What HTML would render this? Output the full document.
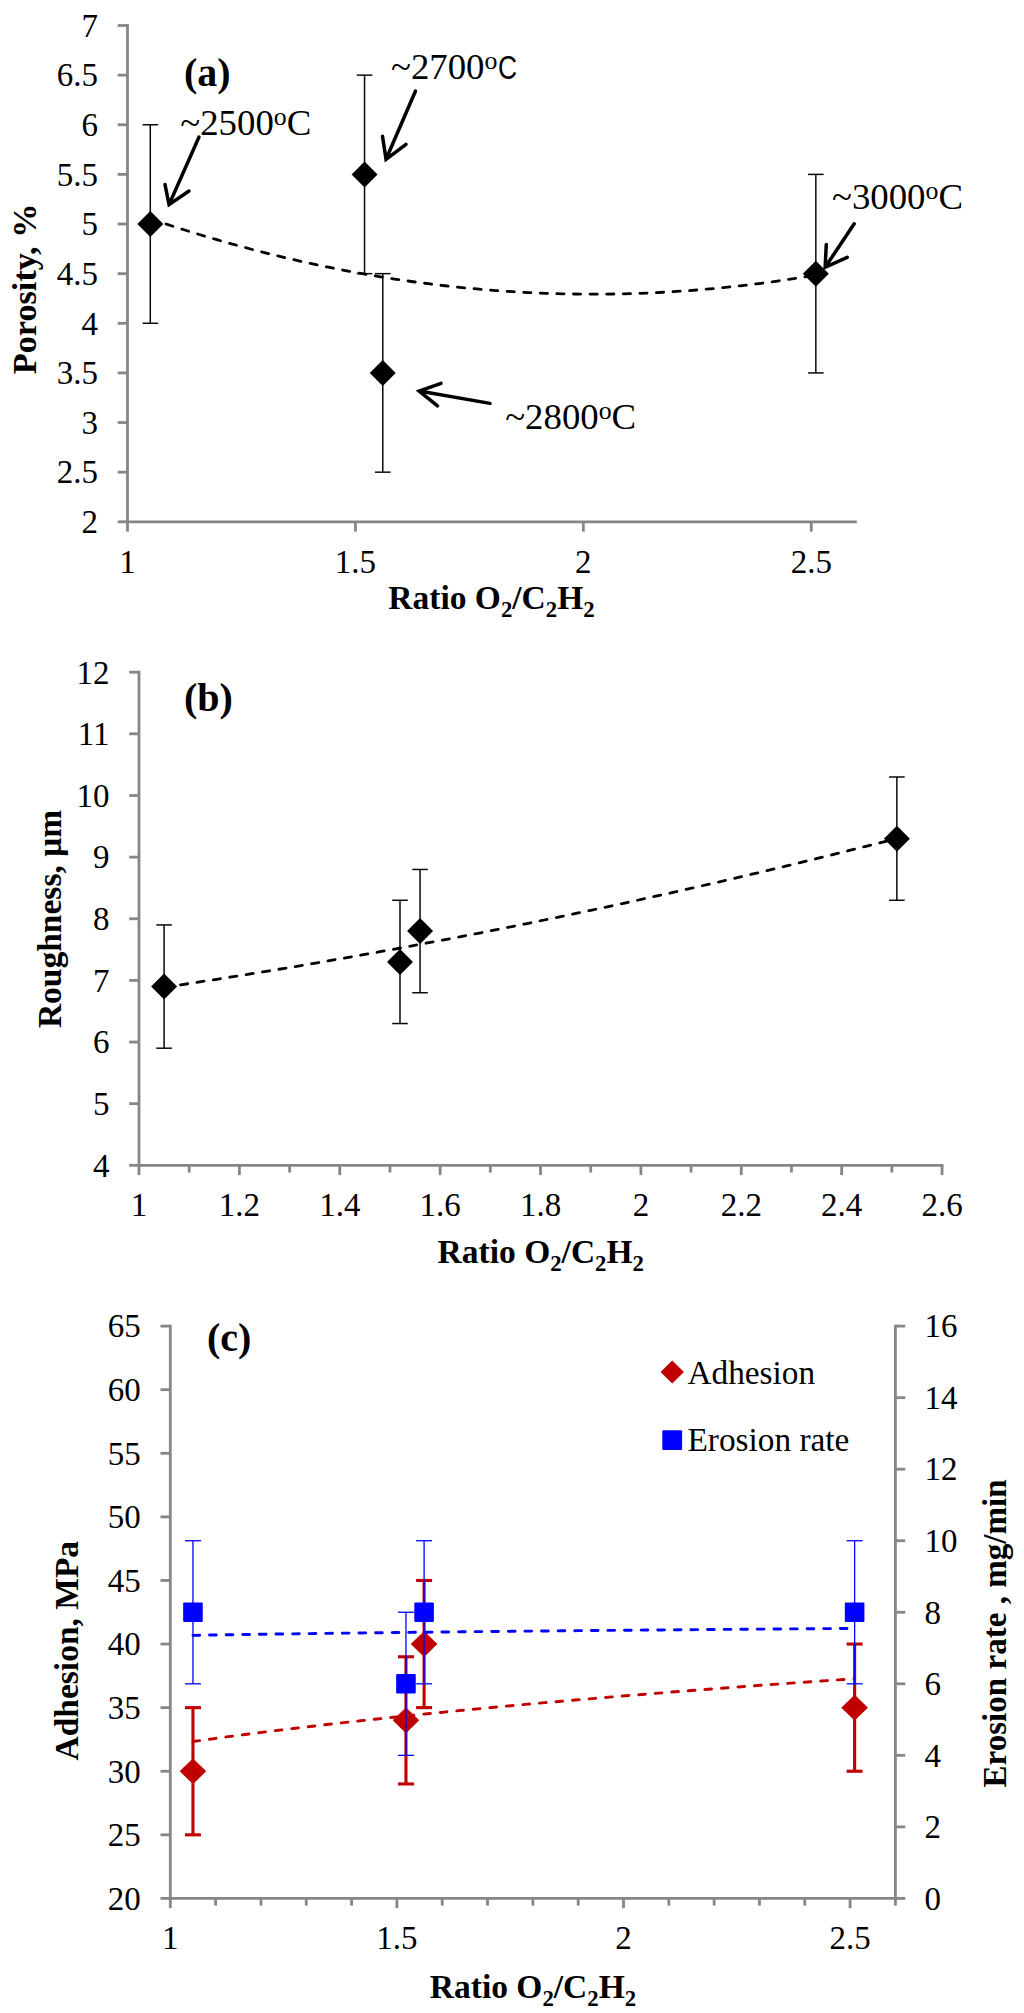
<!DOCTYPE html>
<html><head><meta charset="utf-8"><title>Figure</title>
<style>
html,body{margin:0;padding:0;background:#fff;}
svg{display:block;font-family:'Liberation Serif', 'DejaVu Serif', serif;}
</style></head><body>
<svg width="1024" height="2013" viewBox="0 0 1024 2013">
<rect width="1024" height="2013" fill="#ffffff"/>
<line x1="127.50" y1="24.10" x2="127.50" y2="523.20" stroke="#868686" stroke-width="2.8" />
<line x1="127.50" y1="521.80" x2="856.86" y2="521.80" stroke="#868686" stroke-width="2.8" />
<line x1="117.70" y1="521.80" x2="127.50" y2="521.80" stroke="#868686" stroke-width="2.8" />
<text transform="translate(98.00,533.10) scale(1,1.05)" font-size="33" text-anchor="end" font-weight="normal" fill="#000" >2</text>
<line x1="117.70" y1="472.17" x2="127.50" y2="472.17" stroke="#868686" stroke-width="2.8" />
<text transform="translate(98.00,483.47) scale(1,1.05)" font-size="33" text-anchor="end" font-weight="normal" fill="#000" >2.5</text>
<line x1="117.70" y1="422.54" x2="127.50" y2="422.54" stroke="#868686" stroke-width="2.8" />
<text transform="translate(98.00,433.84) scale(1,1.05)" font-size="33" text-anchor="end" font-weight="normal" fill="#000" >3</text>
<line x1="117.70" y1="372.91" x2="127.50" y2="372.91" stroke="#868686" stroke-width="2.8" />
<text transform="translate(98.00,384.21) scale(1,1.05)" font-size="33" text-anchor="end" font-weight="normal" fill="#000" >3.5</text>
<line x1="117.70" y1="323.28" x2="127.50" y2="323.28" stroke="#868686" stroke-width="2.8" />
<text transform="translate(98.00,334.58) scale(1,1.05)" font-size="33" text-anchor="end" font-weight="normal" fill="#000" >4</text>
<line x1="117.70" y1="273.65" x2="127.50" y2="273.65" stroke="#868686" stroke-width="2.8" />
<text transform="translate(98.00,284.95) scale(1,1.05)" font-size="33" text-anchor="end" font-weight="normal" fill="#000" >4.5</text>
<line x1="117.70" y1="224.02" x2="127.50" y2="224.02" stroke="#868686" stroke-width="2.8" />
<text transform="translate(98.00,235.32) scale(1,1.05)" font-size="33" text-anchor="end" font-weight="normal" fill="#000" >5</text>
<line x1="117.70" y1="174.39" x2="127.50" y2="174.39" stroke="#868686" stroke-width="2.8" />
<text transform="translate(98.00,185.69) scale(1,1.05)" font-size="33" text-anchor="end" font-weight="normal" fill="#000" >5.5</text>
<line x1="117.70" y1="124.76" x2="127.50" y2="124.76" stroke="#868686" stroke-width="2.8" />
<text transform="translate(98.00,136.06) scale(1,1.05)" font-size="33" text-anchor="end" font-weight="normal" fill="#000" >6</text>
<line x1="117.70" y1="75.13" x2="127.50" y2="75.13" stroke="#868686" stroke-width="2.8" />
<text transform="translate(98.00,86.43) scale(1,1.05)" font-size="33" text-anchor="end" font-weight="normal" fill="#000" >6.5</text>
<line x1="117.70" y1="25.50" x2="127.50" y2="25.50" stroke="#868686" stroke-width="2.8" />
<text transform="translate(98.00,36.80) scale(1,1.05)" font-size="33" text-anchor="end" font-weight="normal" fill="#000" >7</text>
<line x1="127.50" y1="521.80" x2="127.50" y2="531.60" stroke="#868686" stroke-width="2.8" />
<text transform="translate(127.50,572.90) scale(1,1.05)" font-size="33" text-anchor="middle" font-weight="normal" fill="#000" >1</text>
<line x1="355.43" y1="521.80" x2="355.43" y2="531.60" stroke="#868686" stroke-width="2.8" />
<text transform="translate(355.43,572.90) scale(1,1.05)" font-size="33" text-anchor="middle" font-weight="normal" fill="#000" >1.5</text>
<line x1="583.35" y1="521.80" x2="583.35" y2="531.60" stroke="#868686" stroke-width="2.8" />
<text transform="translate(583.35,572.90) scale(1,1.05)" font-size="33" text-anchor="middle" font-weight="normal" fill="#000" >2</text>
<line x1="811.28" y1="521.80" x2="811.28" y2="531.60" stroke="#868686" stroke-width="2.8" />
<text transform="translate(811.28,572.90) scale(1,1.05)" font-size="33" text-anchor="middle" font-weight="normal" fill="#000" >2.5</text>
<line x1="150.29" y1="124.76" x2="150.29" y2="323.28" stroke="#0a0a0a" stroke-width="1.5" />
<line x1="142.49" y1="124.76" x2="158.09" y2="124.76" stroke="#0a0a0a" stroke-width="1.5" />
<line x1="142.49" y1="323.28" x2="158.09" y2="323.28" stroke="#0a0a0a" stroke-width="1.5" />
<line x1="364.54" y1="75.13" x2="364.54" y2="273.65" stroke="#0a0a0a" stroke-width="1.5" />
<line x1="356.74" y1="75.13" x2="372.34" y2="75.13" stroke="#0a0a0a" stroke-width="1.5" />
<line x1="356.74" y1="273.65" x2="372.34" y2="273.65" stroke="#0a0a0a" stroke-width="1.5" />
<line x1="382.78" y1="273.65" x2="382.78" y2="472.17" stroke="#0a0a0a" stroke-width="1.5" />
<line x1="374.98" y1="273.65" x2="390.58" y2="273.65" stroke="#0a0a0a" stroke-width="1.5" />
<line x1="374.98" y1="472.17" x2="390.58" y2="472.17" stroke="#0a0a0a" stroke-width="1.5" />
<line x1="815.83" y1="174.39" x2="815.83" y2="372.91" stroke="#0a0a0a" stroke-width="1.5" />
<line x1="808.03" y1="174.39" x2="823.63" y2="174.39" stroke="#0a0a0a" stroke-width="1.5" />
<line x1="808.03" y1="372.91" x2="823.63" y2="372.91" stroke="#0a0a0a" stroke-width="1.5" />
<polyline points="150.29,218.72 158.72,221.56 167.14,224.35 175.57,227.09 183.99,229.77 192.42,232.40 200.84,234.97 209.26,237.49 217.69,239.95 226.11,242.36 234.54,244.71 242.96,247.01 251.39,249.25 259.81,251.44 268.24,253.57 276.66,255.65 285.09,257.68 293.51,259.65 301.93,261.56 310.36,263.42 318.78,265.23 327.21,266.98 335.63,268.68 344.06,270.32 352.48,271.91 360.91,273.44 369.33,274.92 377.76,276.34 386.18,277.71 394.61,279.03 403.03,280.28 411.45,281.49 419.88,282.64 428.30,283.73 436.73,284.78 445.15,285.76 453.58,286.69 462.00,287.57 470.43,288.39 478.85,289.16 487.28,289.87 495.70,290.53 504.12,291.13 512.55,291.68 520.97,292.17 529.40,292.61 537.82,293.00 546.25,293.33 554.67,293.60 563.10,293.82 571.52,293.99 579.95,294.10 588.37,294.15 596.79,294.16 605.22,294.10 613.64,293.99 622.07,293.83 630.49,293.61 638.92,293.34 647.34,293.02 655.77,292.64 664.19,292.20 672.62,291.71 681.04,291.16 689.46,290.56 697.89,289.91 706.31,289.20 714.74,288.44 723.16,287.62 731.59,286.74 740.01,285.82 748.44,284.83 756.86,283.79 765.29,282.70 773.71,281.56 782.14,280.35 790.56,279.10 798.98,277.79 807.41,276.42 815.83,275.00" fill="none" stroke="#000" stroke-width="2.8" stroke-dasharray="7.20 9.40" stroke-linecap="round"/>
<polygon points="137.29,224.02 150.29,211.02 163.29,224.02 150.29,237.02" fill="#000"/>
<polygon points="351.54,174.39 364.54,161.39 377.54,174.39 364.54,187.39" fill="#000"/>
<polygon points="369.78,372.91 382.78,359.91 395.78,372.91 382.78,385.91" fill="#000"/>
<polygon points="802.83,273.65 815.83,260.65 828.83,273.65 815.83,286.65" fill="#000"/>
<text x="184.00" y="86.00" font-size="40" text-anchor="start" font-weight="bold" fill="#000" >(a)</text>
<text x="180.30" y="135.00" font-size="36.8" fill="#000">~2500<tspan font-size="25.8" dy="-9.9">o</tspan><tspan dy="9.9">C</tspan></text>
<text x="391.00" y="79.20" font-size="36.8" fill="#000">~2700<tspan font-size="25.8" dy="-9.9">o</tspan></text>
<text transform="translate(497.90,79.20) scale(0.8,1)" font-family="'Liberation Sans', 'DejaVu Sans', sans-serif" font-size="33" fill="#000">C</text>
<text x="832.00" y="209.00" font-size="36.8" fill="#000">~3000<tspan font-size="25.8" dy="-9.9">o</tspan><tspan dy="9.9">C</tspan></text>
<text x="505.20" y="428.50" font-size="36.8" fill="#000">~2800<tspan font-size="25.8" dy="-9.9">o</tspan><tspan dy="9.9">C</tspan></text>
<path d="M199.00 137.00 L169.05 204.62 M165 184.5 L169.05 204.62 L189 191" fill="none" stroke="#000" stroke-width="3.5" stroke-linecap="round" stroke-linejoin="miter"/>
<path d="M415.50 91.00 L386.03 159.31 M382.5 136.3 L386.03 159.31 L406 144.4" fill="none" stroke="#000" stroke-width="3.5" stroke-linecap="round" stroke-linejoin="miter"/>
<path d="M854.20 223.80 L825.14 267.34 M826.3 244.4 L825.14 267.34 L847.2 257.3" fill="none" stroke="#000" stroke-width="3.5" stroke-linecap="round" stroke-linejoin="miter"/>
<path d="M490.00 403.40 L419.16 391.05 M441 383.4 L419.16 391.05 L437.5 405.9" fill="none" stroke="#000" stroke-width="3.5" stroke-linecap="round" stroke-linejoin="miter"/>
<text x="491.50" y="609.40" font-size="33.5" font-weight="bold" text-anchor="middle" fill="#000">Ratio O<tspan font-size="22.8" dy="8.0">2</tspan><tspan dy="-8.0">/C</tspan><tspan font-size="22.8" dy="8.0">2</tspan><tspan dy="-8.0">H</tspan><tspan font-size="22.8" dy="8.0">2</tspan></text>
<text transform="translate(35.50,288.90) rotate(-90)" font-size="34.3" font-weight="bold" text-anchor="middle" fill="#000">Porosity, %</text>
<line x1="139.00" y1="670.80" x2="139.00" y2="1166.72" stroke="#868686" stroke-width="2.8" />
<line x1="139.00" y1="1165.32" x2="943.44" y2="1165.32" stroke="#868686" stroke-width="2.8" />
<line x1="129.20" y1="1165.32" x2="139.00" y2="1165.32" stroke="#868686" stroke-width="2.8" />
<text transform="translate(109.50,1176.62) scale(1,1.05)" font-size="33" text-anchor="end" font-weight="normal" fill="#000" >4</text>
<line x1="129.20" y1="1103.68" x2="139.00" y2="1103.68" stroke="#868686" stroke-width="2.8" />
<text transform="translate(109.50,1114.98) scale(1,1.05)" font-size="33" text-anchor="end" font-weight="normal" fill="#000" >5</text>
<line x1="129.20" y1="1042.04" x2="139.00" y2="1042.04" stroke="#868686" stroke-width="2.8" />
<text transform="translate(109.50,1053.34) scale(1,1.05)" font-size="33" text-anchor="end" font-weight="normal" fill="#000" >6</text>
<line x1="129.20" y1="980.40" x2="139.00" y2="980.40" stroke="#868686" stroke-width="2.8" />
<text transform="translate(109.50,991.70) scale(1,1.05)" font-size="33" text-anchor="end" font-weight="normal" fill="#000" >7</text>
<line x1="129.20" y1="918.76" x2="139.00" y2="918.76" stroke="#868686" stroke-width="2.8" />
<text transform="translate(109.50,930.06) scale(1,1.05)" font-size="33" text-anchor="end" font-weight="normal" fill="#000" >8</text>
<line x1="129.20" y1="857.12" x2="139.00" y2="857.12" stroke="#868686" stroke-width="2.8" />
<text transform="translate(109.50,868.42) scale(1,1.05)" font-size="33" text-anchor="end" font-weight="normal" fill="#000" >9</text>
<line x1="129.20" y1="795.48" x2="139.00" y2="795.48" stroke="#868686" stroke-width="2.8" />
<text transform="translate(109.50,806.78) scale(1,1.05)" font-size="33" text-anchor="end" font-weight="normal" fill="#000" >10</text>
<line x1="129.20" y1="733.84" x2="139.00" y2="733.84" stroke="#868686" stroke-width="2.8" />
<text transform="translate(109.50,745.14) scale(1,1.05)" font-size="33" text-anchor="end" font-weight="normal" fill="#000" >11</text>
<line x1="129.20" y1="672.20" x2="139.00" y2="672.20" stroke="#868686" stroke-width="2.8" />
<text transform="translate(109.50,683.50) scale(1,1.05)" font-size="33" text-anchor="end" font-weight="normal" fill="#000" >12</text>
<line x1="139.00" y1="1165.32" x2="139.00" y2="1175.12" stroke="#868686" stroke-width="2.8" />
<text transform="translate(139.00,1216.00) scale(1,1.05)" font-size="33" text-anchor="middle" font-weight="normal" fill="#000" >1</text>
<line x1="189.19" y1="1165.32" x2="189.19" y2="1172.52" stroke="#868686" stroke-width="2.8" />
<line x1="239.38" y1="1165.32" x2="239.38" y2="1175.12" stroke="#868686" stroke-width="2.8" />
<text transform="translate(239.38,1216.00) scale(1,1.05)" font-size="33" text-anchor="middle" font-weight="normal" fill="#000" >1.2</text>
<line x1="289.57" y1="1165.32" x2="289.57" y2="1172.52" stroke="#868686" stroke-width="2.8" />
<line x1="339.76" y1="1165.32" x2="339.76" y2="1175.12" stroke="#868686" stroke-width="2.8" />
<text transform="translate(339.76,1216.00) scale(1,1.05)" font-size="33" text-anchor="middle" font-weight="normal" fill="#000" >1.4</text>
<line x1="389.95" y1="1165.32" x2="389.95" y2="1172.52" stroke="#868686" stroke-width="2.8" />
<line x1="440.14" y1="1165.32" x2="440.14" y2="1175.12" stroke="#868686" stroke-width="2.8" />
<text transform="translate(440.14,1216.00) scale(1,1.05)" font-size="33" text-anchor="middle" font-weight="normal" fill="#000" >1.6</text>
<line x1="490.33" y1="1165.32" x2="490.33" y2="1172.52" stroke="#868686" stroke-width="2.8" />
<line x1="540.52" y1="1165.32" x2="540.52" y2="1175.12" stroke="#868686" stroke-width="2.8" />
<text transform="translate(540.52,1216.00) scale(1,1.05)" font-size="33" text-anchor="middle" font-weight="normal" fill="#000" >1.8</text>
<line x1="590.71" y1="1165.32" x2="590.71" y2="1172.52" stroke="#868686" stroke-width="2.8" />
<line x1="640.90" y1="1165.32" x2="640.90" y2="1175.12" stroke="#868686" stroke-width="2.8" />
<text transform="translate(640.90,1216.00) scale(1,1.05)" font-size="33" text-anchor="middle" font-weight="normal" fill="#000" >2</text>
<line x1="691.09" y1="1165.32" x2="691.09" y2="1172.52" stroke="#868686" stroke-width="2.8" />
<line x1="741.28" y1="1165.32" x2="741.28" y2="1175.12" stroke="#868686" stroke-width="2.8" />
<text transform="translate(741.28,1216.00) scale(1,1.05)" font-size="33" text-anchor="middle" font-weight="normal" fill="#000" >2.2</text>
<line x1="791.47" y1="1165.32" x2="791.47" y2="1172.52" stroke="#868686" stroke-width="2.8" />
<line x1="841.66" y1="1165.32" x2="841.66" y2="1175.12" stroke="#868686" stroke-width="2.8" />
<text transform="translate(841.66,1216.00) scale(1,1.05)" font-size="33" text-anchor="middle" font-weight="normal" fill="#000" >2.4</text>
<line x1="891.85" y1="1165.32" x2="891.85" y2="1172.52" stroke="#868686" stroke-width="2.8" />
<line x1="942.04" y1="1165.32" x2="942.04" y2="1175.12" stroke="#868686" stroke-width="2.8" />
<text transform="translate(942.04,1216.00) scale(1,1.05)" font-size="33" text-anchor="middle" font-weight="normal" fill="#000" >2.6</text>
<line x1="164.10" y1="924.92" x2="164.10" y2="1048.20" stroke="#0a0a0a" stroke-width="1.5" />
<line x1="156.30" y1="924.92" x2="171.90" y2="924.92" stroke="#0a0a0a" stroke-width="1.5" />
<line x1="156.30" y1="1048.20" x2="171.90" y2="1048.20" stroke="#0a0a0a" stroke-width="1.5" />
<line x1="399.99" y1="900.27" x2="399.99" y2="1023.55" stroke="#0a0a0a" stroke-width="1.5" />
<line x1="392.19" y1="900.27" x2="407.79" y2="900.27" stroke="#0a0a0a" stroke-width="1.5" />
<line x1="392.19" y1="1023.55" x2="407.79" y2="1023.55" stroke="#0a0a0a" stroke-width="1.5" />
<line x1="420.06" y1="869.45" x2="420.06" y2="992.73" stroke="#0a0a0a" stroke-width="1.5" />
<line x1="412.26" y1="869.45" x2="427.86" y2="869.45" stroke="#0a0a0a" stroke-width="1.5" />
<line x1="412.26" y1="992.73" x2="427.86" y2="992.73" stroke="#0a0a0a" stroke-width="1.5" />
<line x1="896.87" y1="776.99" x2="896.87" y2="900.27" stroke="#0a0a0a" stroke-width="1.5" />
<line x1="889.07" y1="776.99" x2="904.67" y2="776.99" stroke="#0a0a0a" stroke-width="1.5" />
<line x1="889.07" y1="900.27" x2="904.67" y2="900.27" stroke="#0a0a0a" stroke-width="1.5" />
<polyline points="164.10,987.30 173.37,985.91 182.65,984.51 191.92,983.10 201.20,981.68 210.47,980.24 219.75,978.79 229.02,977.33 238.30,975.85 247.58,974.37 256.85,972.87 266.13,971.35 275.40,969.82 284.68,968.29 293.95,966.73 303.23,965.17 312.50,963.59 321.78,962.00 331.06,960.40 340.33,958.78 349.61,957.15 358.88,955.51 368.16,953.86 377.43,952.19 386.71,950.51 395.99,948.82 405.26,947.11 414.54,945.39 423.81,943.66 433.09,941.92 442.36,940.16 451.64,938.39 460.91,936.61 470.19,934.82 479.47,933.01 488.74,931.19 498.02,929.36 507.29,927.51 516.57,925.65 525.84,923.78 535.12,921.90 544.40,920.00 553.67,918.09 562.95,916.17 572.22,914.23 581.50,912.28 590.77,910.32 600.05,908.35 609.32,906.36 618.60,904.36 627.88,902.35 637.15,900.32 646.43,898.29 655.70,896.24 664.98,894.17 674.25,892.10 683.53,890.01 692.81,887.91 702.08,885.79 711.36,883.67 720.63,881.53 729.91,879.37 739.18,877.21 748.46,875.03 757.73,872.84 767.01,870.64 776.29,868.42 785.56,866.19 794.84,863.95 804.11,861.69 813.39,859.42 822.66,857.14 831.94,854.85 841.22,852.54 850.49,850.23 859.77,847.89 869.04,845.55 878.32,843.19 887.59,840.82 896.87,838.44" fill="none" stroke="#000" stroke-width="2.8" stroke-dasharray="7.20 9.40" stroke-linecap="round"/>
<polygon points="151.10,986.56 164.10,973.56 177.10,986.56 164.10,999.56" fill="#000"/>
<polygon points="386.99,961.91 399.99,948.91 412.99,961.91 399.99,974.91" fill="#000"/>
<polygon points="407.06,931.09 420.06,918.09 433.06,931.09 420.06,944.09" fill="#000"/>
<polygon points="883.87,838.63 896.87,825.63 909.87,838.63 896.87,851.63" fill="#000"/>
<text x="184.00" y="711.00" font-size="40" text-anchor="start" font-weight="bold" fill="#000" >(b)</text>
<text x="540.80" y="1262.50" font-size="33.5" font-weight="bold" text-anchor="middle" fill="#000">Ratio O<tspan font-size="22.8" dy="8.0">2</tspan><tspan dy="-8.0">/C</tspan><tspan font-size="22.8" dy="8.0">2</tspan><tspan dy="-8.0">H</tspan><tspan font-size="22.8" dy="8.0">2</tspan></text>
<text transform="translate(61.00,919.00) rotate(-90)" font-size="33.5" font-weight="bold" text-anchor="middle" fill="#000">Roughness, μm</text>
<line x1="170.30" y1="1324.70" x2="170.30" y2="1899.81" stroke="#868686" stroke-width="2.8" />
<line x1="170.30" y1="1898.41" x2="895.42" y2="1898.41" stroke="#868686" stroke-width="2.8" />
<line x1="895.42" y1="1324.70" x2="895.42" y2="1899.81" stroke="#868686" stroke-width="2.8" />
<line x1="160.50" y1="1898.41" x2="170.30" y2="1898.41" stroke="#868686" stroke-width="2.8" />
<text transform="translate(140.80,1909.71) scale(1,1.05)" font-size="33" text-anchor="end" font-weight="normal" fill="#000" >20</text>
<line x1="160.50" y1="1834.82" x2="170.30" y2="1834.82" stroke="#868686" stroke-width="2.8" />
<text transform="translate(140.80,1846.12) scale(1,1.05)" font-size="33" text-anchor="end" font-weight="normal" fill="#000" >25</text>
<line x1="160.50" y1="1771.23" x2="170.30" y2="1771.23" stroke="#868686" stroke-width="2.8" />
<text transform="translate(140.80,1782.53) scale(1,1.05)" font-size="33" text-anchor="end" font-weight="normal" fill="#000" >30</text>
<line x1="160.50" y1="1707.64" x2="170.30" y2="1707.64" stroke="#868686" stroke-width="2.8" />
<text transform="translate(140.80,1718.94) scale(1,1.05)" font-size="33" text-anchor="end" font-weight="normal" fill="#000" >35</text>
<line x1="160.50" y1="1644.05" x2="170.30" y2="1644.05" stroke="#868686" stroke-width="2.8" />
<text transform="translate(140.80,1655.35) scale(1,1.05)" font-size="33" text-anchor="end" font-weight="normal" fill="#000" >40</text>
<line x1="160.50" y1="1580.46" x2="170.30" y2="1580.46" stroke="#868686" stroke-width="2.8" />
<text transform="translate(140.80,1591.76) scale(1,1.05)" font-size="33" text-anchor="end" font-weight="normal" fill="#000" >45</text>
<line x1="160.50" y1="1516.87" x2="170.30" y2="1516.87" stroke="#868686" stroke-width="2.8" />
<text transform="translate(140.80,1528.17) scale(1,1.05)" font-size="33" text-anchor="end" font-weight="normal" fill="#000" >50</text>
<line x1="160.50" y1="1453.28" x2="170.30" y2="1453.28" stroke="#868686" stroke-width="2.8" />
<text transform="translate(140.80,1464.58) scale(1,1.05)" font-size="33" text-anchor="end" font-weight="normal" fill="#000" >55</text>
<line x1="160.50" y1="1389.69" x2="170.30" y2="1389.69" stroke="#868686" stroke-width="2.8" />
<text transform="translate(140.80,1400.99) scale(1,1.05)" font-size="33" text-anchor="end" font-weight="normal" fill="#000" >60</text>
<line x1="160.50" y1="1326.10" x2="170.30" y2="1326.10" stroke="#868686" stroke-width="2.8" />
<text transform="translate(140.80,1337.40) scale(1,1.05)" font-size="33" text-anchor="end" font-weight="normal" fill="#000" >65</text>
<line x1="895.42" y1="1898.42" x2="905.22" y2="1898.42" stroke="#868686" stroke-width="2.8" />
<text transform="translate(924.42,1909.72) scale(1,1.05)" font-size="33" text-anchor="start" font-weight="normal" fill="#000" >0</text>
<line x1="895.42" y1="1826.88" x2="905.22" y2="1826.88" stroke="#868686" stroke-width="2.8" />
<text transform="translate(924.42,1838.18) scale(1,1.05)" font-size="33" text-anchor="start" font-weight="normal" fill="#000" >2</text>
<line x1="895.42" y1="1755.34" x2="905.22" y2="1755.34" stroke="#868686" stroke-width="2.8" />
<text transform="translate(924.42,1766.64) scale(1,1.05)" font-size="33" text-anchor="start" font-weight="normal" fill="#000" >4</text>
<line x1="895.42" y1="1683.80" x2="905.22" y2="1683.80" stroke="#868686" stroke-width="2.8" />
<text transform="translate(924.42,1695.10) scale(1,1.05)" font-size="33" text-anchor="start" font-weight="normal" fill="#000" >6</text>
<line x1="895.42" y1="1612.26" x2="905.22" y2="1612.26" stroke="#868686" stroke-width="2.8" />
<text transform="translate(924.42,1623.56) scale(1,1.05)" font-size="33" text-anchor="start" font-weight="normal" fill="#000" >8</text>
<line x1="895.42" y1="1540.72" x2="905.22" y2="1540.72" stroke="#868686" stroke-width="2.8" />
<text transform="translate(924.42,1552.02) scale(1,1.05)" font-size="33" text-anchor="start" font-weight="normal" fill="#000" >10</text>
<line x1="895.42" y1="1469.18" x2="905.22" y2="1469.18" stroke="#868686" stroke-width="2.8" />
<text transform="translate(924.42,1480.48) scale(1,1.05)" font-size="33" text-anchor="start" font-weight="normal" fill="#000" >12</text>
<line x1="895.42" y1="1397.64" x2="905.22" y2="1397.64" stroke="#868686" stroke-width="2.8" />
<text transform="translate(924.42,1408.94) scale(1,1.05)" font-size="33" text-anchor="start" font-weight="normal" fill="#000" >14</text>
<line x1="895.42" y1="1326.10" x2="905.22" y2="1326.10" stroke="#868686" stroke-width="2.8" />
<text transform="translate(924.42,1337.40) scale(1,1.05)" font-size="33" text-anchor="start" font-weight="normal" fill="#000" >16</text>
<line x1="170.30" y1="1898.41" x2="170.30" y2="1908.21" stroke="#868686" stroke-width="2.8" />
<text transform="translate(170.30,1948.70) scale(1,1.05)" font-size="33" text-anchor="middle" font-weight="normal" fill="#000" >1</text>
<line x1="215.62" y1="1898.41" x2="215.62" y2="1905.61" stroke="#868686" stroke-width="2.8" />
<line x1="260.94" y1="1898.41" x2="260.94" y2="1905.61" stroke="#868686" stroke-width="2.8" />
<line x1="306.26" y1="1898.41" x2="306.26" y2="1905.61" stroke="#868686" stroke-width="2.8" />
<line x1="351.58" y1="1898.41" x2="351.58" y2="1905.61" stroke="#868686" stroke-width="2.8" />
<line x1="396.90" y1="1898.41" x2="396.90" y2="1908.21" stroke="#868686" stroke-width="2.8" />
<text transform="translate(396.90,1948.70) scale(1,1.05)" font-size="33" text-anchor="middle" font-weight="normal" fill="#000" >1.5</text>
<line x1="442.22" y1="1898.41" x2="442.22" y2="1905.61" stroke="#868686" stroke-width="2.8" />
<line x1="487.54" y1="1898.41" x2="487.54" y2="1905.61" stroke="#868686" stroke-width="2.8" />
<line x1="532.86" y1="1898.41" x2="532.86" y2="1905.61" stroke="#868686" stroke-width="2.8" />
<line x1="578.18" y1="1898.41" x2="578.18" y2="1905.61" stroke="#868686" stroke-width="2.8" />
<line x1="623.50" y1="1898.41" x2="623.50" y2="1908.21" stroke="#868686" stroke-width="2.8" />
<text transform="translate(623.50,1948.70) scale(1,1.05)" font-size="33" text-anchor="middle" font-weight="normal" fill="#000" >2</text>
<line x1="668.82" y1="1898.41" x2="668.82" y2="1905.61" stroke="#868686" stroke-width="2.8" />
<line x1="714.14" y1="1898.41" x2="714.14" y2="1905.61" stroke="#868686" stroke-width="2.8" />
<line x1="759.46" y1="1898.41" x2="759.46" y2="1905.61" stroke="#868686" stroke-width="2.8" />
<line x1="804.78" y1="1898.41" x2="804.78" y2="1905.61" stroke="#868686" stroke-width="2.8" />
<line x1="850.10" y1="1898.41" x2="850.10" y2="1908.21" stroke="#868686" stroke-width="2.8" />
<text transform="translate(850.10,1948.70) scale(1,1.05)" font-size="33" text-anchor="middle" font-weight="normal" fill="#000" >2.5</text>
<line x1="895.42" y1="1898.41" x2="895.42" y2="1905.61" stroke="#868686" stroke-width="2.8" />
<line x1="192.96" y1="1707.64" x2="192.96" y2="1834.82" stroke="#c00000" stroke-width="3.1" />
<line x1="184.96" y1="1707.64" x2="200.96" y2="1707.64" stroke="#c00000" stroke-width="3.1" />
<line x1="184.96" y1="1834.82" x2="200.96" y2="1834.82" stroke="#c00000" stroke-width="3.1" />
<line x1="405.96" y1="1656.77" x2="405.96" y2="1783.95" stroke="#c00000" stroke-width="3.1" />
<line x1="397.96" y1="1656.77" x2="413.96" y2="1656.77" stroke="#c00000" stroke-width="3.1" />
<line x1="397.96" y1="1783.95" x2="413.96" y2="1783.95" stroke="#c00000" stroke-width="3.1" />
<line x1="424.09" y1="1580.46" x2="424.09" y2="1707.64" stroke="#c00000" stroke-width="3.1" />
<line x1="416.09" y1="1580.46" x2="432.09" y2="1580.46" stroke="#c00000" stroke-width="3.1" />
<line x1="416.09" y1="1707.64" x2="432.09" y2="1707.64" stroke="#c00000" stroke-width="3.1" />
<line x1="854.63" y1="1644.05" x2="854.63" y2="1771.23" stroke="#c00000" stroke-width="3.1" />
<line x1="846.63" y1="1644.05" x2="862.63" y2="1644.05" stroke="#c00000" stroke-width="3.1" />
<line x1="846.63" y1="1771.23" x2="862.63" y2="1771.23" stroke="#c00000" stroke-width="3.1" />
<polygon points="179.96,1771.23 192.96,1758.63 205.96,1771.23 192.96,1783.83" fill="#c00000" stroke="#c00000" stroke-width="0.6" stroke-linejoin="round"/>
<polygon points="392.96,1720.36 405.96,1707.76 418.96,1720.36 405.96,1732.96" fill="#c00000" stroke="#c00000" stroke-width="0.6" stroke-linejoin="round"/>
<polygon points="411.09,1644.05 424.09,1631.45 437.09,1644.05 424.09,1656.65" fill="#c00000" stroke="#c00000" stroke-width="0.6" stroke-linejoin="round"/>
<polygon points="841.63,1707.64 854.63,1695.04 867.63,1707.64 854.63,1720.24" fill="#c00000" stroke="#c00000" stroke-width="0.6" stroke-linejoin="round"/>
<polyline points="192.96,1741.52 201.34,1740.35 209.71,1739.19 218.09,1738.05 226.46,1736.93 234.84,1735.82 243.21,1734.73 251.59,1733.65 259.96,1732.59 268.34,1731.54 276.72,1730.50 285.09,1729.47 293.47,1728.46 301.84,1727.46 310.22,1726.48 318.59,1725.50 326.97,1724.53 335.35,1723.58 343.72,1722.64 352.10,1721.71 360.47,1720.78 368.85,1719.87 377.22,1718.97 385.60,1718.08 393.97,1717.19 402.35,1716.32 410.73,1715.45 419.10,1714.59 427.48,1713.75 435.85,1712.91 444.23,1712.07 452.60,1711.25 460.98,1710.43 469.35,1709.63 477.73,1708.82 486.11,1708.03 494.48,1707.24 502.86,1706.47 511.23,1705.69 519.61,1704.93 527.98,1704.17 536.36,1703.42 544.73,1702.67 553.11,1701.93 561.49,1701.20 569.86,1700.47 578.24,1699.75 586.61,1699.03 594.99,1698.32 603.36,1697.62 611.74,1696.92 620.12,1696.22 628.49,1695.54 636.87,1694.85 645.24,1694.18 653.62,1693.50 661.99,1692.84 670.37,1692.17 678.74,1691.52 687.12,1690.86 695.50,1690.22 703.87,1689.57 712.25,1688.93 720.62,1688.30 729.00,1687.67 737.37,1687.04 745.75,1686.42 754.12,1685.80 762.50,1685.19 770.88,1684.58 779.25,1683.98 787.63,1683.38 796.00,1682.78 804.38,1682.19 812.75,1681.60 821.13,1681.01 829.51,1680.43 837.88,1679.85 846.26,1679.28 854.63,1678.71" fill="none" stroke="#c00000" stroke-width="2.9" stroke-dasharray="6.70 9.90" stroke-linecap="round"/>
<line x1="192.96" y1="1540.72" x2="192.96" y2="1683.80" stroke="#0000ff" stroke-width="1.3" />
<line x1="184.96" y1="1540.72" x2="200.96" y2="1540.72" stroke="#0000ff" stroke-width="1.3" />
<line x1="184.96" y1="1683.80" x2="200.96" y2="1683.80" stroke="#0000ff" stroke-width="1.3" />
<line x1="405.96" y1="1612.26" x2="405.96" y2="1755.34" stroke="#0000ff" stroke-width="1.3" />
<line x1="397.96" y1="1612.26" x2="413.96" y2="1612.26" stroke="#0000ff" stroke-width="1.3" />
<line x1="397.96" y1="1755.34" x2="413.96" y2="1755.34" stroke="#0000ff" stroke-width="1.3" />
<line x1="424.09" y1="1540.72" x2="424.09" y2="1683.80" stroke="#0000ff" stroke-width="1.3" />
<line x1="416.09" y1="1540.72" x2="432.09" y2="1540.72" stroke="#0000ff" stroke-width="1.3" />
<line x1="416.09" y1="1683.80" x2="432.09" y2="1683.80" stroke="#0000ff" stroke-width="1.3" />
<line x1="854.63" y1="1540.72" x2="854.63" y2="1683.80" stroke="#0000ff" stroke-width="1.3" />
<line x1="846.63" y1="1540.72" x2="862.63" y2="1540.72" stroke="#0000ff" stroke-width="1.3" />
<line x1="846.63" y1="1683.80" x2="862.63" y2="1683.80" stroke="#0000ff" stroke-width="1.3" />
<rect x="183.16" y="1602.46" width="19.6" height="19.6" rx="1" fill="#0000ff"/>
<rect x="396.16" y="1674.00" width="19.6" height="19.6" rx="1" fill="#0000ff"/>
<rect x="414.29" y="1602.46" width="19.6" height="19.6" rx="1" fill="#0000ff"/>
<rect x="844.83" y="1602.46" width="19.6" height="19.6" rx="1" fill="#0000ff"/>
<polyline points="192.96,1635.33 201.34,1635.19 209.71,1635.06 218.09,1634.93 226.46,1634.80 234.84,1634.67 243.21,1634.54 251.59,1634.42 259.96,1634.30 268.34,1634.18 276.72,1634.06 285.09,1633.94 293.47,1633.83 301.84,1633.72 310.22,1633.60 318.59,1633.49 326.97,1633.39 335.35,1633.28 343.72,1633.17 352.10,1633.07 360.47,1632.97 368.85,1632.86 377.22,1632.76 385.60,1632.66 393.97,1632.57 402.35,1632.47 410.73,1632.37 419.10,1632.28 427.48,1632.19 435.85,1632.09 444.23,1632.00 452.60,1631.91 460.98,1631.82 469.35,1631.73 477.73,1631.65 486.11,1631.56 494.48,1631.47 502.86,1631.39 511.23,1631.31 519.61,1631.22 527.98,1631.14 536.36,1631.06 544.73,1630.98 553.11,1630.90 561.49,1630.82 569.86,1630.74 578.24,1630.66 586.61,1630.59 594.99,1630.51 603.36,1630.44 611.74,1630.36 620.12,1630.29 628.49,1630.21 636.87,1630.14 645.24,1630.07 653.62,1630.00 661.99,1629.93 670.37,1629.86 678.74,1629.79 687.12,1629.72 695.50,1629.65 703.87,1629.58 712.25,1629.52 720.62,1629.45 729.00,1629.38 737.37,1629.32 745.75,1629.25 754.12,1629.19 762.50,1629.12 770.88,1629.06 779.25,1629.00 787.63,1628.93 796.00,1628.87 804.38,1628.81 812.75,1628.75 821.13,1628.69 829.51,1628.63 837.88,1628.57 846.26,1628.51 854.63,1628.45" fill="none" stroke="#0000ff" stroke-width="2.9" stroke-dasharray="6.70 9.90" stroke-linecap="round"/>
<text x="207.00" y="1350.50" font-size="40" text-anchor="start" font-weight="bold" fill="#000" >(c)</text>
<polygon points="660.80,1372.00 672.20,1360.80 683.60,1372.00 672.20,1383.20" fill="#c00000" stroke="#c00000" stroke-width="0.6" stroke-linejoin="round"/>
<text x="687.50" y="1383.80" font-size="33.3" text-anchor="start" font-weight="normal" fill="#000" >Adhesion</text>
<rect x="662.30" y="1430.30" width="19.8" height="19.8" rx="1" fill="#0000ff"/>
<text x="687.50" y="1451.30" font-size="33.3" text-anchor="start" font-weight="normal" fill="#000" >Erosion rate</text>
<text x="533.00" y="1997.80" font-size="33.5" font-weight="bold" text-anchor="middle" fill="#000">Ratio O<tspan font-size="22.8" dy="8.0">2</tspan><tspan dy="-8.0">/C</tspan><tspan font-size="22.8" dy="8.0">2</tspan><tspan dy="-8.0">H</tspan><tspan font-size="22.8" dy="8.0">2</tspan></text>
<text transform="translate(77.70,1650.70) rotate(-90)" font-size="33.5" font-weight="bold" text-anchor="middle" fill="#000">Adhesion, MPa</text>
<text transform="translate(1005.50,1633.40) rotate(-90)" font-size="33.1" font-weight="bold" text-anchor="middle" fill="#000">Erosion rate , mg/min</text>
</svg>
</body></html>
